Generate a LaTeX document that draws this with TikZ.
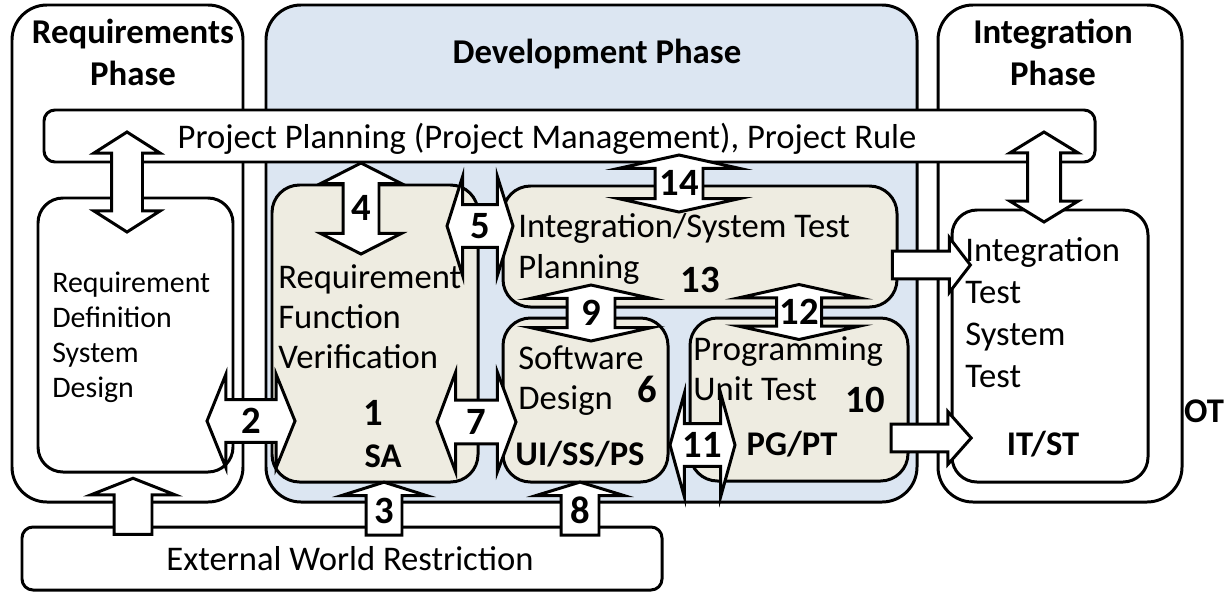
\documentclass[tikz,border=0pt]{standalone}
\usepackage{fontspec}
\setmainfont{Carlito}
\usetikzlibrary{fit,shapes.arrows}

\definecolor{devblue}{HTML}{DCE6F2}
\definecolor{boxtan}{HTML}{EEECE1}

\newcommand\bodyfont{\fontsize{19.7pt}{22.7pt}\selectfont}
\newcommand\smallbody{\fontsize{17pt}{19.8pt}\selectfont}
\newcommand\titlefont{\fontsize{19.8pt}{23.8pt}\selectfont\bfseries}
\newcommand\numfont{\fontsize{22pt}{24pt}\selectfont\bfseries}

\tikzset{
  phase/.style={draw, line width=1.7pt, rounded corners=0.7cm, inner sep=0pt, fill=white},
  task/.style={draw, line width=1.7pt, rounded corners=0.55cm, inner sep=0pt, fill=boxtan},
  bar/.style={draw, line width=1.7pt, rounded corners=0.22cm, inner sep=0pt, fill=white},
  txt/.style={inner sep=0pt, anchor=base west, align=left, font=\bodyfont},
  bold/.style={inner sep=0pt, anchor=base, font=\bodyfont\bfseries},
  num/.style={inner sep=0pt, anchor=base, font=\numfont},
  title/.style={inner sep=0pt, anchor=base, align=center, font=\titlefont},
  blk/.style={draw, fill=white, line width=1.7pt, font=\numfont,
    text height=14.2pt, text depth=0pt},
  % horizontal: length, shaft, total width, tip angle
  dblh/.style n args={4}{blk, double arrow, minimum height=#1*0.02cm,
    inner xsep=0pt, inner ysep={(#2-25)/2*0.02cm},
    double arrow head extend={(#3-#2)/2*0.02cm}, double arrow tip angle=#4},
  sglh/.style n args={4}{blk, single arrow, minimum height=#1*0.02cm,
    inner xsep=0pt, inner ysep={(#2-25)/2*0.02cm},
    single arrow head extend={(#3-#2)/2*0.02cm}, single arrow tip angle=#4},
  % vertical: same arguments, border turned up
  dblv/.style n args={4}{blk, double arrow, minimum height=#1*0.02cm,
    inner xsep={#2/2*0.02cm}, inner ysep=0pt, shape border rotate=90,
    double arrow head extend={(#3-#2)/2*0.02cm}, double arrow tip angle=#4},
  sglv/.style n args={4}{blk, single arrow, minimum height=#1*0.02cm,
    inner xsep={#2/2*0.02cm}, inner ysep=0pt, shape border rotate=90,
    single arrow head extend={(#3-#2)/2*0.02cm}, single arrow tip angle=#4}
}

\begin{document}
\begin{tikzpicture}[x=0.02cm, y=-0.02cm]
  \useasboundingbox (0,0) rectangle (1226,592);
  % phases
  \node[phase, fit={(12,5) (243,502)}] (reqP) {};
  \node[phase, fill=devblue, fit={(266,5) (917,502)}] (devP) {};
  \node[phase, fit={(938,5) (1182,502)}] (intP) {};
  % boxes
  \node[task, fill=white, rounded corners=0.5cm, fit={(38,198) (233,472)}] (rdBox) {};
  \node[task, fit={(272,185) (478,482)}] (rfBox) {};
  \node[task, fit={(503,186) (897,307)}] (istBox) {};
  \node[task, fit={(503,318) (668,482)}] (sdBox) {};
  \node[task, fit={(690,318) (908,481)}] (pgBox) {};
  \node[task, fill=white, rounded corners=0.5cm, fit={(952,210) (1148,482)}] (itBox) {};
  \node[bar, fit={(44,110) (1095,162)}] (ppBar) {};
  \node[bar, fit={(22,527) (662,590)}] (extBar) {};
  % block arrows
  \node[dblv={100}{28}{63}{115}] (aL) at (127,182) {\makebox[0pt]{}};
  \node[dblv={90}{30}{65}{117}] (aR) at (1044,177) {\makebox[0pt]{}};
  \node[dblv={91}{33}{78}{126}] (a4) at (361,208.5) {\makebox[0pt]{4}};
  \node[dblh={66}{40}{96}{145}] (a5) at (480,226) {5};
  \node[dblv={57}{45}{117}{155}] (a14) at (679,183.5) {\makebox[0pt]{14}};
  \node[dblv={56}{45}{118}{155}] (a9) at (591,313) {\makebox[0pt]{9}};
  \node[dblv={55}{42}{118}{155}] (a12) at (799,312) {\makebox[0pt]{12}};
  \node[dblh={88}{40}{90}{136}] (a2) at (251,421) {2};
  \node[dblh={79}{41}{97}{139}] (a7) at (476.5,422) {7};
  \node[dblh={65}{40}{100}{149}] (a11) at (702.5,445) {11};
  \node[sglv={56}{35}{81}{137}] (aE) at (133,510) {\makebox[0pt]{}};
  \node[sglv={53}{33}{82}{145}] (a3) at (384,511.5) {\makebox[0pt]{3}};
  \node[sglv={53}{35}{85}{146}] (a8) at (580,511.5) {\makebox[0pt]{8}};
  \node[sglh={78}{25}{52}{105}] (a13) at (926,265) {};
  \node[sglh={80}{25}{50}{97}] (a10) at (925,438) {};
  % texts
  \node[title] (reqT) at (133,85) {Requirements\\Phase};
  \node[title] (devT) at (597,63) {Development Phase};
  \node[title] (intT) at (1053,85) {Integration\\Phase};
  \node[txt, anchor=base] (ppT) at (547,148) {Project Planning (Project Management), Project Rule};
  \node[txt, anchor=base] (extT) at (350,570) {External World Restriction};
  \node[txt, font=\smallbody] (rdT) at (52,397) {Requirement\\Definition\\System\\Design};
  \node[txt] (rfT) at (278,368) {Requirement\\Function\\Verification};
  \node[num] (n1) at (373,425) {1};
  \node[bold] (sa) at (383,467) {SA};
  \node[txt, font=\fontsize{19.7pt}{23.2pt}\selectfont] (istT) at (518,278) {Integration/System Test\\Planning};
  \node[num] (n13) at (700,292) {13};
  \node[txt] (sdT) at (518,409) {Software\\Design};
  \node[num] (n6) at (647,402) {6};
  \node[bold] (ui) at (580,465) {UI/SS/PS};
  \node[txt] (pgT) at (693,400) {Programming\\Unit Test};
  \node[num] (n10) at (865,412) {10};
  \node[bold] (pgpt) at (792,455) {PG/PT};
  \node[txt, font=\fontsize{19.7pt}{23.8pt}\selectfont] (itT) at (965,387) {Integration\\Test\\System\\Test};
  \node[bold] (itst) at (1043,455) {IT/ST};
  \node[bold] (ot) at (1204,422) {OT};
\end{tikzpicture}
\end{document}
